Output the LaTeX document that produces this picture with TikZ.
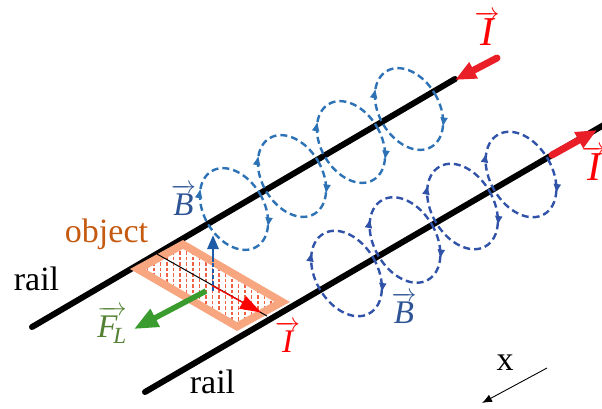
\documentclass[tikz,border=0pt]{standalone}
\usepackage{amsmath}
\usepackage{fontspec}
\setmainfont{Liberation Serif}
\newfontfamily\labelfont{Liberation Serif}
\usetikzlibrary{arrows.meta,decorations.markings}

\definecolor{currentred}{RGB}{255,0,0}
\definecolor{railred}{RGB}{234,30,38}
\definecolor{fieldup}{RGB}{46,114,182}
\definecolor{fieldlow}{RGB}{48,82,168}
\definecolor{labelblue}{RGB}{46,84,150}
\definecolor{arrowblue}{RGB}{31,92,168}
\definecolor{forcegreen}{RGB}{58,156,46}
\definecolor{labelgreen}{RGB}{84,130,53}
\definecolor{objtext}{RGB}{197,90,17}
\definecolor{objband}{RGB}{248,166,128}
\definecolor{hatchred}{RGB}{240,96,66}

% vector letter with its arrow set close above the letter
\newcommand{\lowvec}[1]{\ensuremath{\overrightarrow{\smash{#1}\rule{0pt}{0.59em}}}}

\begin{document}
\begin{tikzpicture}[x=1pt,y=-1pt,
  rail/.style={line width=6pt, line cap=round, black},
  fieldloop/.style={line width=2.4pt, dash pattern=on 7pt off 4pt,
    postaction={decorate, decoration={markings,
      mark=at position 0.15 with {\arrow{Latex[length=10pt,width=8pt]}},
      mark=at position 0.66 with {\arrow{Latex[length=10pt,width=8pt]}}}}},
  bigarrow/.style={line width=7pt, line cap=round, railred,
    -{Triangle[length=21pt,width=17pt]}},
  plain/.style={font=\labelfont\fontsize{34}{40}\selectfont, inner sep=0pt, anchor=base},
  vecsmall/.style={font=\labelfont\fontsize{33}{38}\selectfont, inner sep=0pt, anchor=base},
  veclarge/.style={font=\labelfont\fontsize{41}{46}\selectfont, inner sep=0pt, anchor=base},
  hatchline/.style={hatchred, line width=1.2pt, dash pattern=on 3.5pt off 2pt}
]
\useasboundingbox (0,0) rectangle (602,408);

% rails
\coordinate (uStart) at (32,327);
\coordinate (uEnd)   at (455,79);
\coordinate (lStart) at (145,392);
\coordinate (lEnd)   at (614,119);
\draw[rail] (uStart) -- (uEnd);
\draw[rail] (lStart) -- (lEnd);

% magnetic field loops around the rails
\foreach \cx/\cy in {234/209, 292/176, 351/142, 409/109}
  \draw[fieldloop, fieldup, rotate around={30.4:(\cx,\cy)}]
    (\cx,\cy) ellipse [x radius=30, y radius=44];
\foreach \cx/\cy in {346.5/273.5, 405/240, 462.5/206.5, 521/174.5}
  \draw[fieldloop, fieldlow, rotate around={30.1:(\cx,\cy)}]
    (\cx,\cy) ellipse [x radius=31, y radius=46];

% currents on the rails
\coordinate (uArrTail) at (497,58);
\coordinate (uArrTip)  at (455,80);
\coordinate (lArrTail) at (552,155);
\coordinate (lArrTip)  at (597,130);
\draw[bigarrow] (uArrTail) -- (uArrTip);
\draw[bigarrow] (lArrTail) -- (lArrTip);

% sliding object
\coordinate (oA) at (130,269);
\coordinate (oB) at (183,240);
\coordinate (oC) at (290,302);
\coordinate (oD) at (237,331);
\coordinate (iA) at (146,269.3);
\coordinate (iB) at (183,249);
\coordinate (iC) at (274,301.7);
\coordinate (iD) at (237,322);
\fill[objband] (oA) -- (oB) -- (oC) -- (oD) -- cycle;
\fill[white] (iA) -- (iB) -- (iC) -- (iD) -- cycle;
\begin{scope}
  \clip (iA) -- (iB) -- (iC) -- (iD) -- cycle;
  \foreach \x in {141,147.5,...,290}
    \draw[hatchline] (\x,240) -- (\x,335);
\end{scope}

% conductor through the object
\coordinate (cTop) at (157,254);
\coordinate (cBot) at (267,316);
\draw[black, line width=1pt] (cTop) -- (cBot);

% field vector at the object
\coordinate (bBase) at (213,291);
\coordinate (bMid)  at (213,263);
\coordinate (bTip)  at (213,235);
\draw[arrowblue, line width=2.8pt, dash pattern=on 4pt off 2pt] (bBase) -- (bMid);
\draw[arrowblue, line width=2.8pt, -{Triangle[length=14pt,width=11pt]}] ([yshift=1pt]bMid) -- (bTip);

% current through the object
\coordinate (iTail) at (212,285.5);
\coordinate (iTip)  at (261,312.5);
\draw[currentred, line width=1.3pt, -{Triangle[length=21pt,width=14pt]}] (iTail) -- (iTip);

% Lorentz force
\coordinate (fTail) at (206,291);
\coordinate (fTip)  at (134,329);
\draw[forcegreen, line width=5.5pt, -{Triangle[length=24pt,width=19pt]}] (fTail) -- (fTip);

% x direction
\coordinate (xTail) at (547,368);
\coordinate (xTip)  at (482,403);
\draw[black, line width=0.9pt, -{Latex[length=10pt,width=8pt]}] (xTail) -- (xTip);

% labels
\node[plain] (railUp)  at (36.5,290) {rail};
\node[plain] (railLow) at (212.5,393) {rail};
\node[plain, text=objtext] (objLabel) at (106.5,242) {object};
\node[plain] (xLabel) at (505,370) {x};
\node[vecsmall, text=labelblue] (bUpLabel)  at (183.5,215) {$\overrightarrow{\textit{B}}$};
\node[vecsmall, text=labelblue] (bLowLabel) at (404,323) {$\overrightarrow{\textit{B}}$};
\node[vecsmall, text=labelgreen] (fLabel) at (112,337) {$\overrightarrow{\textit{F}_{\!\textit{L}}}$};
\node[vecsmall, text=currentred] (iObjLabel) at (287.5,352) {$\overrightarrow{\textit{I}}$};
\node[veclarge, text=currentred] (iUpLabel)  at (487,45)  {\lowvec{\textit{I}}};
\node[veclarge, text=currentred] (iLowLabel) at (594,180) {\lowvec{\textit{I}}};
\end{tikzpicture}
\end{document}
